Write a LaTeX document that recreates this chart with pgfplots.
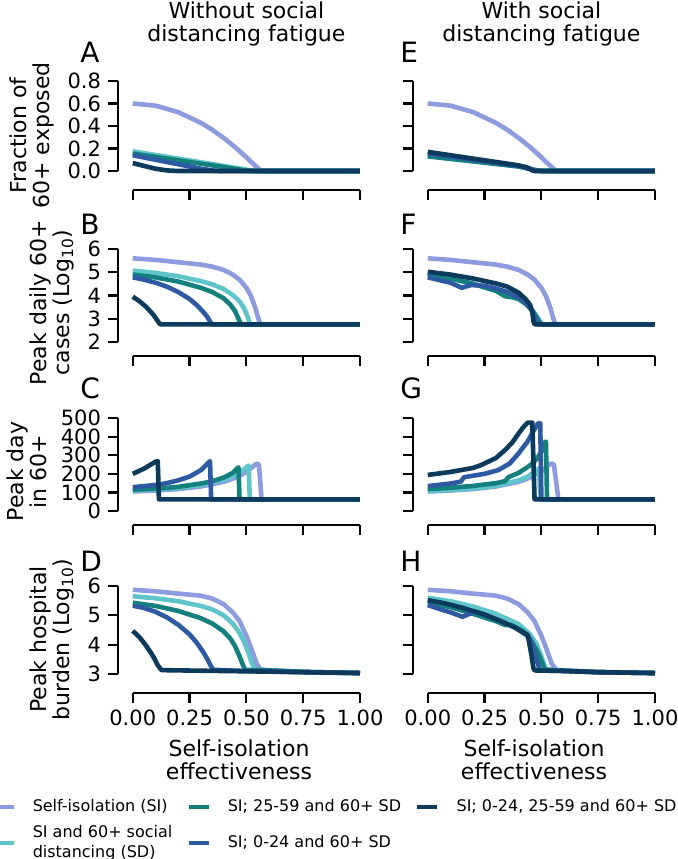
\documentclass[border=0pt]{standalone}
\usepackage{fontspec}
\setmainfont{DejaVu Sans}
\usepackage{pgfplots}
\pgfplotsset{compat=1.18}
\definecolor{lav}{HTML}{8C9CDF}
\definecolor{lteal}{HTML}{5FC5CB}
\definecolor{teal2}{HTML}{13807D}
\definecolor{blue2}{HTML}{2D5AA2}
\definecolor{navy}{HTML}{0B3A5D}

\pgfplotsset{
  panel/.style={
    scale only axis, width=121pt,
    xmin=-0.065, xmax=1,
    axis lines*=left, axis line style={draw=none,-},
    tick align=outside, major tick length=5pt,
    tick style={black, line width=1.1pt},
    xtick={0,0.25,0.5,0.75,1}, xticklabels={},
    clip=false,
    tick label style={font=\fontsize{10.5}{12}\selectfont},
    ylabel style={font=\fontsize{11}{11.5}\selectfont, align=center},
    every axis plot/.append style={line width=2.3pt, line join=round},
  },
  rowA/.style={height=54.5pt, ymin=-0.169, ymax=0.8, ytick={0,0.2,0.4,0.6,0.8}},
  rowB/.style={height=53.5pt, ymin=1.398, ymax=6, ytick={2,3,4,5,6}},
  rowC/.style={height=53.5pt, ymin=-75, ymax=500, ytick={0,100,200,300,400,500}},
  rowD/.style={height=53.5pt, ymin=2.35, ymax=6, ytick={3,4,5,6},
    xticklabels={0.00,0.25,0.50,0.75,1.00},
    xlabel={Self-isolation\\effectiveness},
    xlabel style={font=\fontsize{11}{11.5}\selectfont, align=center}},
}
\newcommand{\spines}[3]{%
  \draw[line width=1.1pt] (axis cs:-0.065,#1) -- (axis cs:-0.065,#2);
  \draw[line width=1.1pt] (axis cs:0,#3) -- (axis cs:1,#3);}
\newcommand{\letter}[3]{\node[anchor=base west, inner sep=0pt, font=\fontsize{14}{14}\selectfont] at (#1,#2) {#3};}

\begin{document}
\begin{tikzpicture}
\path[use as bounding box] (0,0) rectangle (338.5pt,429.5pt);

% ---------- row A / E ----------
\begin{axis}[panel, rowA, at={(59pt,334.5pt)},
  yticklabels={0.0,0.2,0.4,0.6,0.8},
  ylabel={Fraction of\\60+ exposed}]
\addplot[lav] coordinates {(0,0.600)(0.1,0.581)(0.2,0.523)(0.3,0.428)(0.35,0.366)(0.4,0.294)(0.45,0.213)(0.5,0.122)(0.53,0.063)(0.565,0)(1,0)};
\addplot[lteal] coordinates {(0,0.175)(0.2,0.11)(0.4,0.045)(0.52,0.005)(0.54,0)(1,0)};
\addplot[teal2] coordinates {(0,0.155)(0.2,0.095)(0.4,0.035)(0.5,0.003)(0.52,0)(1,0)};
\addplot[blue2] coordinates {(0,0.14)(0.1,0.1)(0.2,0.06)(0.3,0.02)(0.36,0.002)(0.38,0)(1,0)};
\addplot[navy] coordinates {(0,0.07)(0.05,0.045)(0.1,0.02)(0.15,0.005)(0.2,0)(1,0)};
\spines{0}{0.8}{-0.169}
\node[anchor=south, align=center, inner sep=0pt, yshift=17.5pt, font=\fontsize{11}{11.5}\selectfont] at (axis cs:0.5,0.8) {Without social\\distancing fatigue};
\end{axis}

\begin{axis}[panel, rowA, at={(206.5pt,334.5pt)}, yticklabels={}]
\addplot[lav] coordinates {(0,0.600)(0.1,0.581)(0.2,0.523)(0.3,0.428)(0.35,0.366)(0.4,0.294)(0.45,0.213)(0.5,0.122)(0.53,0.063)(0.565,0)(1,0)};
\addplot[lteal] coordinates {(0,0.14)(0.2,0.09)(0.4,0.04)(0.47,0.01)(0.5,0)(1,0)};
\addplot[teal2] coordinates {(0,0.13)(0.2,0.085)(0.4,0.04)(0.47,0.01)(0.5,0)(1,0)};
\addplot[blue2] coordinates {(0,0.155)(0.2,0.1)(0.4,0.045)(0.44,0.03)(0.47,0.003)(0.5,0)(1,0)};
\addplot[navy] coordinates {(0,0.17)(0.2,0.11)(0.4,0.05)(0.43,0.035)(0.46,0.005)(0.47,0)(1,0)};
\spines{0}{0.8}{-0.169}
\node[anchor=south, align=center, inner sep=0pt, yshift=17.5pt, font=\fontsize{11}{11.5}\selectfont] at (axis cs:0.5,0.8) {With social\\distancing fatigue};
\end{axis}

% ---------- row B / F ----------
\begin{axis}[panel, rowB, at={(59pt,251.5pt)},
  yticklabels={2,3,4,5,6},
  ylabel={Peak daily 60+\\cases (Log\textsubscript{10})}]
\addplot[lav] coordinates {(0,5.6)(0.1,5.53)(0.2,5.43)(0.3,5.33)(0.35,5.24)(0.4,5.1)(0.44,4.9)(0.47,4.68)(0.5,4.33)(0.52,3.98)(0.54,3.45)(0.55,3.1)(0.56,2.8)(0.57,2.76)(1,2.76)};
\addplot[lteal] coordinates {(0,5.07)(0.1,4.97)(0.2,4.83)(0.3,4.62)(0.35,4.48)(0.4,4.28)(0.44,4.02)(0.47,3.75)(0.49,3.45)(0.505,3.1)(0.515,2.8)(0.52,2.76)(1,2.76)};
\addplot[teal2] coordinates {(0,4.9)(0.1,4.78)(0.2,4.6)(0.3,4.33)(0.35,4.15)(0.4,3.88)(0.43,3.6)(0.45,3.33)(0.465,3.0)(0.475,2.78)(0.48,2.76)(1,2.76)};
\addplot[blue2] coordinates {(0,4.78)(0.05,4.68)(0.1,4.55)(0.15,4.38)(0.2,4.15)(0.25,3.85)(0.28,3.6)(0.31,3.3)(0.33,3.05)(0.345,2.8)(0.35,2.76)(1,2.76)};
\addplot[navy] coordinates {(0,3.95)(0.03,3.75)(0.06,3.5)(0.09,3.18)(0.11,2.9)(0.12,2.76)(1,2.76)};
\spines{2}{6}{1.398}
\end{axis}

\begin{axis}[panel, rowB, at={(206.5pt,251.5pt)}, yticklabels={}]
\addplot[lav] coordinates {(0,5.6)(0.1,5.53)(0.2,5.43)(0.3,5.33)(0.35,5.24)(0.4,5.1)(0.44,4.9)(0.47,4.68)(0.5,4.33)(0.52,3.98)(0.54,3.45)(0.55,3.1)(0.56,2.8)(0.57,2.76)(1,2.76)};
\addplot[lteal] coordinates {(0,4.9)(0.1,4.72)(0.2,4.5)(0.3,4.22)(0.4,3.85)(0.45,3.5)(0.48,3.1)(0.5,2.8)(0.505,2.76)(1,2.76)};
\addplot[teal2] coordinates {(0,4.95)(0.1,4.75)(0.2,4.5)(0.3,4.2)(0.34,3.97)(0.37,3.93)(0.4,3.85)(0.43,3.65)(0.46,3.35)(0.48,3.05)(0.495,2.8)(0.5,2.76)(1,2.76)};
\addplot[blue2] coordinates {(0,4.78)(0.1,4.55)(0.15,4.33)(0.19,4.45)(0.25,4.42)(0.3,4.3)(0.35,4.15)(0.4,3.93)(0.43,3.7)(0.46,3.35)(0.475,3.0)(0.485,2.76)(1,2.76)};
\addplot[navy] coordinates {(0,5.02)(0.1,4.9)(0.2,4.73)(0.3,4.52)(0.35,4.38)(0.4,4.12)(0.43,3.85)(0.45,3.6)(0.46,3.3)(0.465,2.9)(0.47,2.76)(1,2.76)};
\spines{2}{6}{1.398}
\end{axis}

% ---------- row C / G ----------
\begin{axis}[panel, rowC, at={(59pt,167pt)},
  yticklabels={0,100,200,300,400,500},
  ylabel={Peak day\\in 60+}]
\addplot[lav] coordinates {(0,105)(0.1,110)(0.2,118)(0.3,132)(0.4,157)(0.45,178)(0.5,210)(0.53,240)(0.545,255)(0.555,250)(0.567,63)(1,63)};
\addplot[lteal] coordinates {(0,110)(0.1,115)(0.2,124)(0.3,140)(0.4,168)(0.45,192)(0.48,215)(0.5,235)(0.51,245)(0.515,63)(1,63)};
\addplot[teal2] coordinates {(0,115)(0.1,120)(0.2,130)(0.3,148)(0.35,160)(0.4,180)(0.44,205)(0.465,235)(0.47,63)(1,63)};
\addplot[blue2] coordinates {(0,128)(0.1,140)(0.15,150)(0.2,165)(0.25,185)(0.3,220)(0.34,268)(0.345,63)(1,63)};
\addplot[navy] coordinates {(0,200)(0.05,228)(0.1,265)(0.11,268)(0.115,63)(1,63)};
\spines{0}{500}{-75}
\end{axis}

\begin{axis}[panel, rowC, at={(206.5pt,167pt)}, yticklabels={}]
\addplot[lav] coordinates {(0,105)(0.1,110)(0.2,118)(0.3,132)(0.4,157)(0.45,180)(0.5,215)(0.53,245)(0.545,256)(0.555,250)(0.575,63)(1,63)};
\addplot[lteal] coordinates {(0,108)(0.1,113)(0.2,121)(0.3,135)(0.4,165)(0.44,185)(0.47,210)(0.49,230)(0.495,63)(1,63)};
\addplot[teal2] coordinates {(0,118)(0.1,125)(0.2,135)(0.3,150)(0.34,160)(0.355,182)(0.4,205)(0.45,245)(0.48,280)(0.5,320)(0.515,372)(0.52,372)(0.525,63)(1,63)};
\addplot[blue2] coordinates {(0,134)(0.1,148)(0.145,158)(0.16,182)(0.25,200)(0.31,220)(0.36,255)(0.4,310)(0.44,375)(0.47,440)(0.485,471)(0.495,471)(0.5,63)(1,63)};
\addplot[navy] coordinates {(0,194)(0.1,210)(0.2,232)(0.235,247)(0.3,285)(0.34,328)(0.37,365)(0.4,417)(0.42,450)(0.44,475)(0.46,475)(0.47,63)(1,63)};
\spines{0}{500}{-75}
\end{axis}

% ---------- row D / H ----------
\begin{axis}[panel, rowD, at={(59pt,83pt)},
  yticklabels={3,4,5,6},
  ylabel={Peak hospital\\burden (Log\textsubscript{10})},
  legend image code/.code={\draw[#1] (0pt,0pt) -- (10pt,0pt);},
  legend style={at={(-0.525,-0.953)}, anchor=north west, draw=none, fill=none,
    inner sep=0pt, legend columns=3, font=\fontsize{8}{10}\selectfont,
    cells={anchor=west, align=left, inner sep=1pt}, row sep=1.5pt,
    /tikz/every odd column/.append style={column sep=6.5pt},
    /tikz/every even column/.append style={column sep=5pt}}]
\addplot[lav, forget plot] coordinates {(0,5.87)(0.1,5.82)(0.2,5.74)(0.3,5.67)(0.35,5.57)(0.4,5.38)(0.44,5.1)(0.47,4.8)(0.5,4.3)(0.52,3.9)(0.545,3.36)(0.56,3.16)(0.6,3.12)(0.75,3.07)(1,3.03)};
\addplot[lteal, forget plot] coordinates {(0,5.65)(0.1,5.58)(0.2,5.48)(0.3,5.32)(0.35,5.2)(0.4,5.0)(0.44,4.72)(0.47,4.4)(0.49,4.1)(0.51,3.7)(0.525,3.35)(0.54,3.15)(0.6,3.12)(0.75,3.07)(1,3.03)};
\addplot[teal2, forget plot] coordinates {(0,5.43)(0.1,5.32)(0.2,5.15)(0.3,4.9)(0.35,4.72)(0.4,4.45)(0.43,4.2)(0.45,3.95)(0.47,3.6)(0.485,3.3)(0.495,3.14)(0.6,3.12)(0.75,3.07)(1,3.03)};
\addplot[blue2, forget plot] coordinates {(0,5.33)(0.05,5.25)(0.1,5.12)(0.15,4.93)(0.2,4.68)(0.25,4.35)(0.28,4.08)(0.31,3.75)(0.33,3.48)(0.345,3.25)(0.355,3.14)(0.5,3.1)(0.75,3.06)(1,3.03)};
\addplot[navy, forget plot] coordinates {(0,4.47)(0.03,4.25)(0.06,3.95)(0.09,3.6)(0.11,3.3)(0.125,3.14)(0.13,3.13)(0.3,3.11)(0.5,3.09)(0.75,3.06)(1,3.03)};
\spines{3}{6}{2.35}
\addlegendimage{lav, line width=2.2pt}
\addlegendentry{Self-isolation (SI)}
\addlegendimage{teal2, line width=2.2pt}
\addlegendentry{SI; 25-59 and 60+ SD}
\addlegendimage{navy, line width=2.2pt}
\addlegendentry{SI; 0-24, 25-59 and 60+ SD}
\addlegendimage{lteal, line width=2.2pt}
\addlegendentry{SI and 60+ social\\distancing (SD)}
\addlegendimage{blue2, line width=2.2pt}
\addlegendentry{SI; 0-24 and 60+ SD}
\end{axis}

\begin{axis}[panel, rowD, at={(206.5pt,83pt)}, yticklabels={}]
\addplot[lav] coordinates {(0,5.87)(0.1,5.82)(0.2,5.74)(0.3,5.67)(0.35,5.57)(0.4,5.38)(0.44,5.1)(0.47,4.8)(0.5,4.3)(0.52,3.9)(0.545,3.36)(0.565,3.14)(0.6,3.12)(0.75,3.07)(1,3.03)};
\addplot[lteal] coordinates {(0,5.6)(0.1,5.48)(0.2,5.3)(0.3,5.05)(0.4,4.7)(0.45,4.35)(0.48,4.0)(0.5,3.6)(0.52,3.15)(0.6,3.11)(0.75,3.06)(1,3.03)};
\addplot[teal2] coordinates {(0,5.45)(0.1,5.28)(0.2,5.05)(0.3,4.8)(0.34,4.67)(0.37,4.66)(0.42,4.45)(0.45,4.2)(0.48,3.8)(0.5,3.45)(0.515,3.15)(0.6,3.11)(0.75,3.06)(1,3.03)};
\addplot[blue2] coordinates {(0,5.35)(0.05,5.22)(0.1,5.1)(0.153,4.95)(0.205,5.12)(0.25,5.03)(0.31,4.84)(0.38,4.6)(0.44,4.3)(0.46,4.0)(0.475,3.6)(0.49,3.2)(0.495,3.12)(0.6,3.1)(0.75,3.06)(1,3.03)};
\addplot[navy] coordinates {(0,5.52)(0.08,5.4)(0.16,5.24)(0.24,5.05)(0.31,4.84)(0.38,4.6)(0.44,4.33)(0.455,3.7)(0.465,3.2)(0.47,3.12)(0.6,3.1)(0.75,3.06)(1,3.03)};
\spines{3}{6}{2.35}
\end{axis}

% panel letters
\letter{40pt}{398pt}{A}
\letter{40pt}{312pt}{B}
\letter{40pt}{230pt}{C}
\letter{40pt}{143.5pt}{D}
\letter{200pt}{398pt}{E}
\letter{200pt}{312pt}{F}
\letter{200pt}{230pt}{G}
\letter{200pt}{143.5pt}{H}
\end{tikzpicture}
\end{document}
